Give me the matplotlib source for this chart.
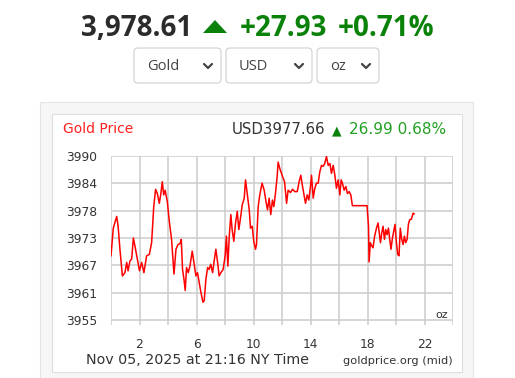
import numpy as np
import matplotlib
matplotlib.use("Agg")
import matplotlib.pyplot as plt
from matplotlib.patches import FancyBboxPatch, Rectangle, Polygon

# price data (hours since midnight NY time, USD/oz)
hours = [0.0, 0.16, 0.4, 0.5, 0.63, 0.8, 0.98, 1.1, 1.2, 1.33, 1.45, 1.57, 1.68,
         1.85, 2.0, 2.15, 2.31, 2.5, 2.69, 2.85, 3.0, 3.13, 3.25, 3.39, 3.5, 3.6,
         3.7, 3.8, 3.95, 4.09, 4.25, 4.42, 4.56, 4.7, 4.84, 4.93, 5.02, 5.12, 5.21,
         5.3, 5.42, 5.54, 5.7, 5.82, 5.96, 6.07, 6.19, 6.31, 6.45, 6.54, 6.66, 6.78,
         6.89, 7.0, 7.13, 7.24, 7.36, 7.48, 7.59, 7.71, 7.87, 8.01, 8.1, 8.2, 8.3,
         8.41, 8.5, 8.62, 8.74, 8.86, 8.97, 9.09, 9.21, 9.35, 9.44, 9.56, 9.7, 9.79,
         9.91, 10.02, 10.14, 10.21, 10.33, 10.44, 10.6, 10.75, 10.86, 10.98, 11.1,
         11.21, 11.33, 11.43, 11.54, 11.66, 11.73, 11.85, 12.04, 12.18, 12.32, 12.43,
         12.6, 12.74, 12.9, 13.07, 13.2, 13.32, 13.44, 13.53, 13.65, 13.77, 13.88,
         14.0, 14.07, 14.19, 14.3, 14.42, 14.54, 14.65, 14.77, 14.89, 15.0, 15.12,
         15.24, 15.36, 15.47, 15.59, 15.71, 15.82, 15.94, 16.06, 16.15, 16.24, 16.36,
         16.48, 16.59, 16.71, 16.83, 16.94, 17.97, 18.07, 18.11, 18.2, 18.3, 18.39,
         18.5, 18.63, 18.74, 18.81, 18.91, 19.0, 19.09, 19.19, 19.28, 19.37, 19.47,
         19.56, 19.65, 19.75, 19.84, 19.93, 20.03, 20.12, 20.21, 20.3, 20.4, 20.5,
         20.59, 20.68, 20.78, 20.87, 20.96, 21.08, 21.2, 21.27]
prices = [3968.7, 3974.6, 3977.1, 3975.0, 3970.0, 3964.4, 3965.1, 3967.3, 3965.5,
          3967.6, 3968.0, 3972.5, 3970.8, 3968.0, 3965.5, 3967.3, 3965.1, 3968.7,
          3969.0, 3971.5, 3979.2, 3982.9, 3982.0, 3979.9, 3982.0, 3984.5, 3981.7,
          3982.7, 3980.3, 3976.1, 3972.2, 3964.8, 3970.1, 3971.1, 3971.3, 3972.2,
          3965.8, 3963.7, 3961.3, 3966.2, 3965.1, 3966.5, 3969.7, 3967.3, 3964.4,
          3965.1, 3963.0, 3960.9, 3958.8, 3959.1, 3963.7, 3966.2, 3965.8, 3966.9,
          3965.1, 3967.6, 3970.1, 3967.3, 3964.4, 3965.1, 3965.8, 3968.7, 3972.9,
          3966.5, 3972.9, 3977.5, 3974.3, 3971.8, 3975.7, 3978.2, 3974.3, 3976.8,
          3979.6, 3981.0, 3984.9, 3982.0, 3978.5, 3974.6, 3975.0, 3971.8, 3970.1,
          3971.1, 3979.2, 3981.7, 3984.2, 3982.7, 3980.6, 3978.5, 3981.0, 3977.5,
          3980.6, 3979.2, 3982.0, 3985.6, 3988.7, 3987.3, 3985.6, 3984.5, 3979.9,
          3982.7, 3982.2, 3982.9, 3982.4, 3982.4, 3984.5, 3985.9, 3983.5, 3982.0,
          3979.9, 3981.7, 3980.6, 3983.5, 3985.9, 3981.0, 3983.1, 3984.2, 3984.2,
          3986.6, 3988.0, 3987.8, 3988.4, 3989.9, 3988.0, 3988.4, 3986.3, 3988.0,
          3985.9, 3983.1, 3984.9, 3981.7, 3984.9, 3984.2, 3982.7, 3983.5, 3982.0,
          3982.4, 3981.7, 3979.4, 3979.4, 3975.0, 3967.4, 3971.5, 3970.8, 3970.4,
          3972.9, 3974.6, 3975.7, 3973.9, 3971.5, 3973.6, 3975.0, 3972.2, 3974.3,
          3973.2, 3974.6, 3972.2, 3970.1, 3972.5, 3973.9, 3975.4, 3971.5, 3969.0,
          3968.7, 3974.6, 3972.2, 3971.1, 3972.9, 3971.5, 3972.2, 3975.4, 3976.4,
          3976.5, 3977.8, 3977.66]

ytick_vals = np.linspace(3955, 3990, 7)
ytick_labels = ["3955", "3961", "3967", "3973", "3978", "3984", "3990"]
xgrid = list(range(0, 25, 2))
xtick_labels = {2: "2", 6: "6", 10: "10", 14: "14", 18: "18", 22: "22"}
dropdowns = ["Gold", "USD", "oz"]

W, H = 515, 378
fig = plt.figure(figsize=(W / 100, H / 100), dpi=100)
fig.patch.set_facecolor("white")

# background axes in pixel coordinates
bg = fig.add_axes([0, 0, 1, 1])
bg.set_xlim(0, W)
bg.set_ylim(H, 0)
bg.axis("off")

green = "#0a820a"
hfont = "Open Sans"

# headline
bg.text(81, 29, "3,978.61", fontsize=20, fontweight="bold", family=hfont,
        color="#2b2b2b", va="center", ha="left")
bg.add_patch(Polygon([[203, 33], [227, 33], [215, 20]], closed=True,
                     color=green, lw=0))
bg.text(240, 29, "+27.93", fontsize=20, fontweight="bold", family=hfont,
        color=green, va="center", ha="left")
bg.text(338, 29, "+0.71%", fontsize=20, fontweight="bold", family=hfont,
        color=green, va="center", ha="left")

# dropdowns
boxes = [(134, 87), (226, 86), (317, 62)]
for (x0, w), label in zip(boxes, dropdowns):
    bg.add_patch(FancyBboxPatch((x0, 48), w, 35,
                                boxstyle="round,pad=0,rounding_size=4",
                                fc="white", ec="#cfcfcf", lw=0.8))
    bg.text(x0 + 13, 66, label, fontsize=10.5, family=hfont, color="#444444",
            va="center", ha="left")
    cx = x0 + w - 13
    bg.plot([cx - 4, cx, cx + 4], [64, 68, 64], color="#444444", lw=1.6,
            solid_capstyle="round", solid_joinstyle="round")

# outer and inner panels
bg.add_patch(Rectangle((40, 102), 433, 290, fc="#f6f6f6", ec="#e4e4e4", lw=0.8))
bg.add_patch(Rectangle((52, 114), 410, 258, fc="white", ec="#dedede", lw=0.8))

# chart header texts
bg.text(63, 129, "Gold Price", fontsize=10, color="#ff2020", va="center", ha="left")
bg.text(232, 130, "USD3977.66", fontsize=10.8, color="#333333", va="center", ha="left")
bg.text(332, 131, "\u25b2", fontsize=9, color=green, va="center", ha="left")
bg.text(349, 130, "26.99 0.68%", fontsize=11, color="#22a022", va="center", ha="left")

# footer texts
bg.text(86, 360, "Nov 05, 2025 at 21:16 NY Time", fontsize=10.3, color="#333333",
        va="center", ha="left")
bg.text(453, 361, "goldprice.org (mid)", fontsize=8.2, color="#333333",
        va="center", ha="right")

# price chart
ax = fig.add_axes([111 / W, 1 - 325 / H, 342 / W, 169 / H])
ax.set_facecolor("white")
ax.plot(hours, prices, color="#ff0000", lw=1.1, zorder=3)
ax.set_xlim(0, 24)
ax.set_ylim(3955 - 5 / 4.686, 3990)
for s in ax.spines.values():
    s.set_visible(False)
ax.set_xticks(xgrid)
ax.set_xticklabels([xtick_labels.get(v, "") for v in xgrid])
ax.set_yticks(ytick_vals)
ax.set_yticklabels(ytick_labels)
ax.tick_params(length=0, labelsize=8.8, labelcolor="#333333")
ax.tick_params(axis="x", pad=9)
ax.tick_params(axis="y", pad=10)
ax.grid(True, color="#cccccc", lw=1.1)
ax.set_axisbelow(True)
ax.text(0.985, 0.06, "oz", transform=ax.transAxes, fontsize=8, color="#333333",
        ha="right", va="center")

fig.savefig("out.png", dpi=100)
